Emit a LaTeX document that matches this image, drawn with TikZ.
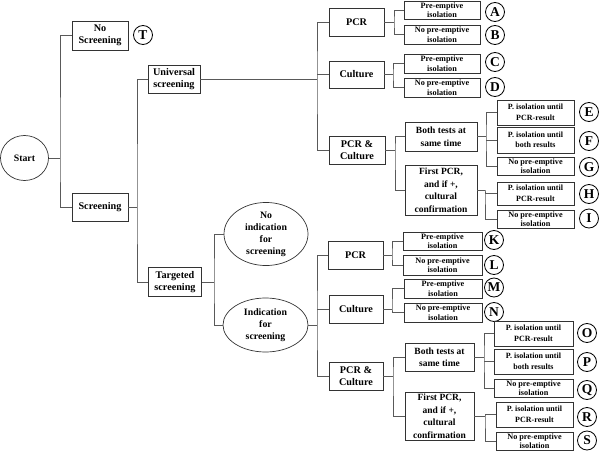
\documentclass[tikz,border=0pt]{standalone}
\usepackage{fontspec}
\setmainfont{Liberation Serif}
\usetikzlibrary{shapes.geometric}
\tikzset{
  bx/.style={draw=black!80, line width=0.7pt, rectangle, inner sep=0pt, align=center},
  sm/.style={bx, font=\bfseries\fontsize{8.2}{9.4}\selectfont},
  md/.style={bx, font=\bfseries\fontsize{8}{10.5}\selectfont},
  lg/.style={bx, font=\bfseries\fontsize{10.2}{12.5}\selectfont},
  lgb/.style={bx, font=\bfseries\fontsize{9.5}{12.5}\selectfont},
  el/.style={draw=black!80, line width=0.7pt, ellipse, inner sep=0pt, align=center, font=\bfseries\fontsize{9.8}{12}\selectfont},
  lab/.style={draw=black, circle, line width=0.8pt, minimum size=19pt, inner sep=0pt, font=\bfseries\fontsize{13.5}{13.5}\selectfont},
  ln/.style={draw=black!65, line width=0.8pt},
  sz/.style 2 args={minimum width=#1pt, minimum height=#2pt},
}
\begin{document}
\begin{tikzpicture}[x=1pt,y=-1pt]
\useasboundingbox (0,0) rectangle (600,452);
% left part
\node[el, minimum width=48pt, minimum height=45pt] (start) at (24.5,158) {Start};
\node[lg, sz={56}{29}] (nos) at (100,35.5) {No\\Screening};
\node[lab] (T) at (143,35) {T};
\node[lg, sz={56}{28}] (scr) at (100,207) {Screening};
\node[lg, sz={52}{28}] (uni) at (174,79) {Universal\\screening};
\node[lg, sz={53}{29}] (tar) at (175,282) {Targeted\\screening};
\node[el, minimum width=84pt, minimum height=52pt] (noind) at (266,234) {No\\indication\\for\\screening};
\node[el, minimum width=85pt, minimum height=54pt] (ind) at (265.5,325) {Indication\\for\\screening};

% upper branch
\node[lg, sz={55}{28}] (pcr1) at (356.5,22) {PCR};
\node[lg, sz={55}{27}] (cul1) at (356.5,74.5) {Culture};
\node[lg, sz={56}{28}] (pc1) at (357,150) {PCR \&\\Culture};
\node[sm, sz={76}{18}] (A) at (442,10) {Pre-emptive\\isolation};
\node[sm, sz={76}{19}] (B) at (442,34.5) {No pre-emptive\\isolation};
\node[sm, sz={76}{19}] (C) at (442,63.5) {Pre-emptive\\isolation};
\node[sm, sz={76}{19}] (D) at (442,87.5) {No pre-emptive\\isolation};
\node[lab] (cA) at (495,12) {A};
\node[lab] (cB) at (495,35) {B};
\node[lab] (cC) at (495,62) {C};
\node[lab] (cD) at (495,87) {D};
\node[lgb, sz={72}{29}] (bt1) at (441,136.5) {Both tests at\\same time};
\node[lgb, sz={72}{50}] (fp1) at (441,190) {First PCR,\\and if +,\\cultural\\confirmation};
\node[md, sz={77}{25}] (E) at (535.5,112.5) {P. isolation until\\PCR-result};
\node[md, sz={77}{26}] (F) at (535.5,140) {P. isolation until\\both results};
\node[sm, sz={77}{18}] (G) at (535.5,166) {No pre-emptive\\isolation};
\node[md, sz={77}{23}] (H) at (535.5,193.5) {P. isolation until\\PCR-result};
\node[sm, sz={77}{18}] (I) at (535.5,219) {No pre-emptive\\isolation};
\node[lab] (cE) at (589,112) {E};
\node[lab] (cF) at (589,141) {F};
\node[lab] (cG) at (589,167) {G};
\node[lab] (cH) at (589,194) {H};
\node[lab] (cI) at (589,218.5) {I};

% lower branch
\node[lg, sz={55}{28}] (pcr2) at (355.5,255) {PCR};
\node[lg, sz={54}{28}] (cul2) at (356,309) {Culture};
\node[lg, sz={54}{28}] (pc2) at (356,376) {PCR \&\\Culture};
\node[sm, sz={79}{18}] (K) at (442.5,241) {Pre-emptive\\isolation};
\node[sm, sz={79}{20}] (L) at (442.5,265) {No pre-emptive\\isolation};
\node[sm, sz={78}{19}] (M) at (443,288.5) {Pre-emptive\\isolation};
\node[sm, sz={78}{19}] (N) at (443,312.5) {No pre-emptive\\isolation};
\node[lab] (cK) at (494,240) {K};
\node[lab] (cL) at (494,265) {L};
\node[lab] (cM) at (494,287.5) {M};
\node[lab] (cN) at (494,312) {N};
\node[lgb, sz={69}{28}] (bt2) at (439.5,357) {Both tests at\\same time};
\node[lgb, sz={69}{48}] (fp2) at (439.5,416) {First PCR,\\and if +,\\cultural\\confirmation};
\node[md, sz={79}{25}] (O) at (533.5,333.5) {P. isolation until\\PCR-result};
\node[md, sz={79}{25}] (P) at (533.5,361.5) {P. isolation until\\both results};
\node[sm, sz={79}{18}] (Q) at (533.5,388) {No pre-emptive\\isolation};
\node[md, sz={77}{25}] (R) at (534.5,414.5) {P. isolation until\\PCR-result};
\node[sm, sz={77}{18}] (S) at (534.5,441) {No pre-emptive\\isolation};
\node[lab] (cO) at (587,333) {O};
\node[lab] (cP) at (587,362) {P};
\node[lab] (cQ) at (587,390) {Q};
\node[lab] (cR) at (587,417) {R};
\node[lab] (cS) at (587,440.5) {S};

% junctions
\coordinate (j0) at (60,158);
\coordinate (js) at (137,207);
\coordinate (ju) at (317,79);
\coordinate (jt) at (214,282);
\coordinate (ji) at (317,325);
\coordinate (jp1) at (394,22);
\coordinate (jc1) at (393,74.5);
\coordinate (jpc1) at (395,150);
\coordinate (jb1) at (486,136.5);
\coordinate (jf1) at (485,190);
\coordinate (jp2) at (392,255);
\coordinate (jc2) at (392,309);
\coordinate (jpc2) at (393,376);
\coordinate (jb2) at (484,357);
\coordinate (jf2) at (485,416);

% connectors
\draw[ln] (start.east) -- (j0);
\draw[ln] (nos.west) -| (j0) |- (scr.west);
\draw[ln] (scr.east) -- (js);
\draw[ln] (uni.west) -| (js) |- (tar.west);
\draw[ln] (uni.east) -- (ju);
\draw[ln] (pcr1.west) -| (ju) |- (pc1.west);
\draw[ln] (ju |- cul1.west) -- (cul1.west);
\draw[ln] (tar.east) -- (jt);
\draw[ln] (noind.west) -| (jt) |- (ind.west);
\draw[ln] (ind.east) -- (ji);
\draw[ln] (pcr2.west) -| (ji) |- (pc2.west);
\draw[ln] (ji |- cul2.west) -- (cul2.west);

\draw[ln] (pcr1.east) -- (jp1);
\draw[ln] (A.west) -| (jp1) |- (B.west);
\draw[ln] (cul1.east) -- (jc1);
\draw[ln] (C.west) -| (jc1) |- (D.west);
\draw[ln] (pc1.east) -- (jpc1);
\draw[ln] (bt1.west) -| (jpc1) |- (fp1.west);
\draw[ln] (bt1.east) -- (jb1);
\draw[ln] (E.west) -| (jb1) |- (G.west);
\draw[ln] (jb1 |- F.west) -- (F.west);
\draw[ln] (fp1.east) -- (jf1);
\draw[ln] (H.west) -| (jf1) |- (I.west);

\draw[ln] (pcr2.east) -- (jp2);
\draw[ln] (K.west) -| (jp2) |- (L.west);
\draw[ln] (cul2.east) -- (jc2);
\draw[ln] (M.west) -| (jc2) |- (N.west);
\draw[ln] (pc2.east) -- (jpc2);
\draw[ln] (bt2.west) -| (jpc2) |- (fp2.west);
\draw[ln] (bt2.east) -- (jb2);
\draw[ln] (O.west) -| (jb2) |- (Q.west);
\draw[ln] (jb2 |- P.west) -- (P.west);
\draw[ln] (fp2.east) -- (jf2);
\draw[ln] (R.west) -| (jf2) |- (S.west);
\end{tikzpicture}
\end{document}
